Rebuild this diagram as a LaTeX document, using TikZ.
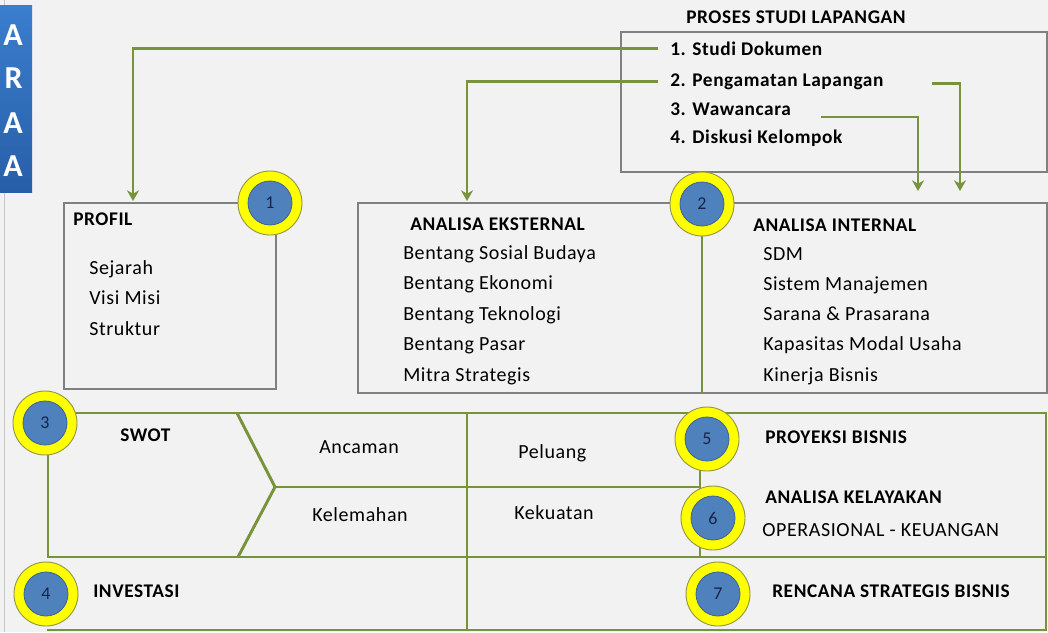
\documentclass[tikz,border=0pt]{standalone}
\usepackage{fontspec}
\setmainfont{Carlito}[LetterSpace=3]
\usetikzlibrary{arrows.meta, positioning, calc}
\definecolor{linkgreen}{RGB}{119,147,60}
\definecolor{panelgray}{RGB}{128,128,128}
\definecolor{badgeyellow}{RGB}{255,255,0}
\definecolor{ringedge}{RGB}{150,150,70}
\definecolor{badgeblue}{RGB}{79,129,189}
\definecolor{blueedge}{RGB}{58,98,150}
\definecolor{numnavy}{RGB}{23,37,72}
\definecolor{barblue}{RGB}{58,126,205}
\definecolor{bardark}{RGB}{40,94,168}
\definecolor{canvas}{RGB}{242,242,242}

\tikzset{
  link/.style={draw=linkgreen, line width=2.2pt},
  arr/.style={link, -{Stealth[length=8pt,width=9pt,inset=2.5pt]}},
  panel/.style={draw=panelgray, line width=1.2pt},
  badge/.style={circle, minimum size=48pt, inner sep=0pt, fill=badgeyellow,
    draw=ringedge, line width=0.7pt, text=numnavy, font=\fontsize{13.5}{13.5}\selectfont,
    path picture={\fill[badgeblue, draw=blueedge, line width=0.6pt]
      (path picture bounding box.center) circle (16.5pt);}},
  item/.style={anchor=base west, inner sep=0pt, font=\fontsize{15}{17}\selectfont},
  head/.style={anchor=base west, inner sep=0pt, font=\fontsize{14.5}{17}\selectfont\bfseries},
  barletter/.style={anchor=base east, inner sep=0pt, text=white,
    font=\fontsize{24}{24}\selectfont\bfseries},
}

\begin{document}
\begin{tikzpicture}[x=0.75pt, y=-0.75pt]
  % canvas
  \fill[canvas] (0,0) rectangle (1048,632);
  \useasboundingbox (0,0) rectangle (1048,632);
  \draw[gray!45, line width=0.6pt] (4,0) -- (4,632);

  % side bar
  \shade[top color=barblue, bottom color=bardark] (0,5) rectangle (32,192);
  \begin{scope}
    \clip (0,5) rectangle (32,192);
    \node[barletter] (l1) at (23,45) {A};
    \node[barletter] (l2) at (23,88) {R};
    \node[barletter] (l3) at (23,133) {A};
    \node[barletter] (l4) at (23,176) {A};
  \end{scope}

  % proses studi lapangan
  \draw[panel] (621,32) rectangle (1047,172);
  \node[head, anchor=base] (proses) at (796,23) {PROSES STUDI LAPANGAN};
  \node[head] (s1) at (670,55) {1. Studi Dokumen};
  \node[head] (s2) at (670,86) {2. Pengamatan Lapangan};
  \node[head] (s3) at (670,115) {3. Wawancara};
  \node[head] (s4) at (670,143) {4. Diskusi Kelompok};

  % profil
  \draw[panel] (64,203) rectangle (276,389);
  \node[head] (profil) at (73,225) {PROFIL};
  \node[item] (p1) at (89,274) {Sejarah};
  \node[item] (p2) at (89,304) {Visi Misi};
  \node[item] (p3) at (89,335) {Struktur};

  % analisa eksternal / internal
  \draw[panel] (358,203) rectangle (1047,393);
  \node[head] (ext) at (410,230) {ANALISA EKSTERNAL};
  \node[item] (e1) at (403,259) {Bentang Sosial Budaya};
  \node[item] (e2) at (403,289) {Bentang Ekonomi};
  \node[item] (e3) at (403,320) {Bentang Teknologi};
  \node[item] (e4) at (403,350) {Bentang Pasar};
  \node[item] (e5) at (403,381) {Mitra Strategis};
  \node[head] (int) at (753,231) {ANALISA INTERNAL};
  \node[item] (i1) at (763,260) {SDM};
  \node[item] (i2) at (763,290) {Sistem Manajemen};
  \node[item] (i3) at (763,320) {Sarana \& Prasarana};
  \node[item] (i4) at (763,350) {Kapasitas Modal Usaha};
  \node[item] (i5) at (763,381) {Kinerja Bisnis};

  % arrow ends
  \coordinate (t1) at (133,201);
  \coordinate (t2) at (467,201);
  \coordinate (t3) at (918,191);
  \coordinate (t4) at (960,191);
  \draw[arr] ([xshift=-9pt]s1.west) -| (t1);
  \draw[arr] ([xshift=-9pt]s2.west) -| (t2);
  \draw[arr] ([xshift=22pt,yshift=-1.5pt]s3.base east) -| (t3);
  \draw[arr] ([xshift=36pt,yshift=2pt]s2.base east) -| (t4);

  % lower grid
  \draw[link] (46,413) -- (1046,413) -- (1046,630) -- (47,630);
  \draw[link] (48,413) -- (48,557) -- (1046,557);
  \draw[link] (237,413) -- (275,487) -- (238,557);
  \draw[link] (275,487) -- (700,487);
  \draw[link] (467,413) -- (467,630);
  \draw[link] (700,440) -- (700,557);
  \draw[link] (702,204) -- (702,393);

  \node[head] (swot) at (120,441) {SWOT};
  \node[item] (w1) at (319,453) {Ancaman};
  \node[item] (w2) at (312,521) {Kelemahan};
  \node[item] (w3) at (518,458) {Peluang};
  \node[item] (w4) at (514,519) {Kekuatan};
  \node[head] (proy) at (765,443) {PROYEKSI BISNIS};
  \node[head] (layak) at (765,503) {ANALISA KELAYAKAN};
  \node[item] (ops) at (762,536) {OPERASIONAL - KEUANGAN};
  \node[head] (inv) at (93,597) {INVESTASI};
  \node[head] (renc) at (772,597) {RENCANA STRATEGIS BISNIS};

  % badges
  \node[badge] (b1) at (270,203) {1};
  \node[badge] (b2) at (702,204) {2};
  \node[badge] (b3) at (45,423) {3};
  \node[badge] (b4) at (46,594) {4};
  \node[badge] (b5) at (707,439) {5};
  \node[badge] (b6) at (713,518) {6};
  \node[badge] (b7) at (718,594) {7};
\end{tikzpicture}
\end{document}
